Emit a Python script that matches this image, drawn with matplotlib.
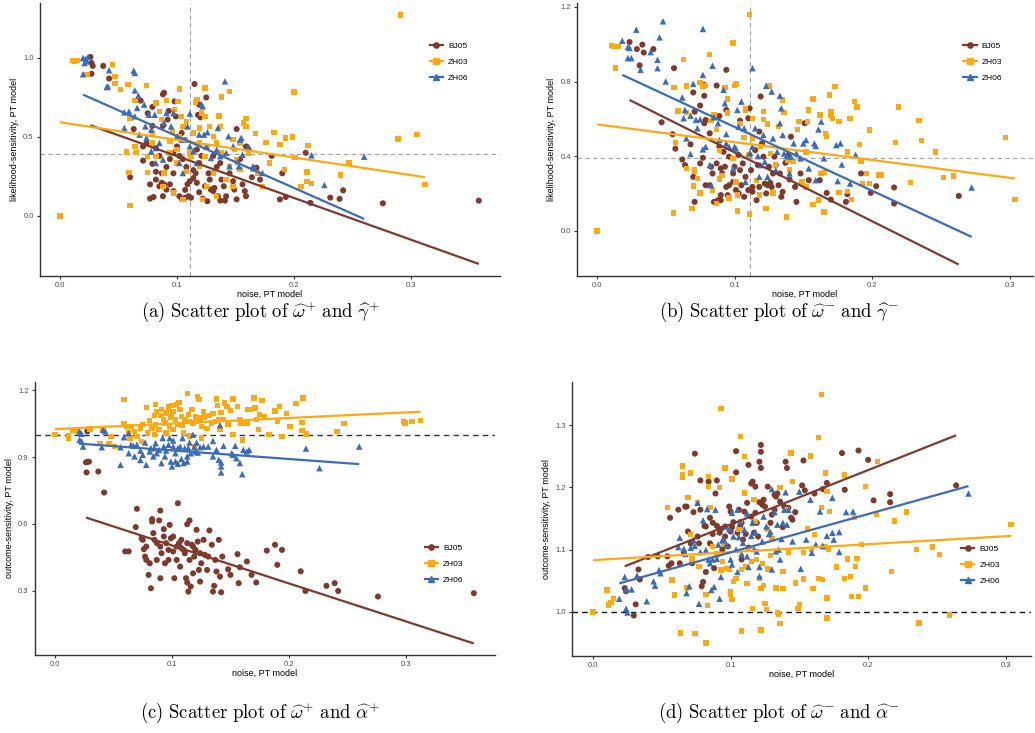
import numpy as np
import matplotlib
matplotlib.use("Agg")
import matplotlib.pyplot as plt
from matplotlib.lines import Line2D

plt.rcParams['font.family'] = ['Liberation Sans', 'DejaVu Sans']
plt.rcParams['mathtext.fontset'] = 'cm'

groups = ["BJ05", "ZH03", "ZH06"]
colors = {"BJ05": "#7d3a2d", "ZH03": "#ffa812", "ZH06": "#3a6cb8"}
markers = {"BJ05": "o", "ZH03": "s", "ZH06": "^"}

# ---- (a) noise vs likelihood-sensitivity, gains ----
a_bj05 = [(0.026, 1.006), (0.027, 0.968), (0.028, 0.95), (0.027, 0.90), (0.037, 0.95), (0.042, 0.87),
          (0.063, 0.55), (0.069, 0.73), (0.075, 0.65), (0.079, 0.69), (0.088, 0.77), (0.089, 0.78),
          (0.098, 0.725), (0.093, 0.665), (0.115, 0.835), (0.125, 0.75), (0.119, 0.705), (0.118, 0.64),
          (0.12, 0.625), (0.151, 0.55), (0.060, 0.245), (0.071, 0.35), (0.077, 0.11), (0.080, 0.12),
          (0.088, 0.125), (0.077, 0.2), (0.082, 0.23), (0.082, 0.28), (0.079, 0.33), (0.087, 0.21),
          (0.089, 0.2), (0.094, 0.2), (0.087, 0.27), (0.094, 0.36), (0.097, 0.40), (0.102, 0.38),
          (0.102, 0.125), (0.104, 0.11), (0.107, 0.115), (0.110, 0.125), (0.112, 0.115), (0.107, 0.165),
          (0.109, 0.2), (0.111, 0.22), (0.114, 0.24), (0.116, 0.27), (0.114, 0.29), (0.119, 0.335),
          (0.121, 0.38), (0.117, 0.42), (0.119, 0.15), (0.122, 0.11), (0.126, 0.093), (0.129, 0.167),
          (0.131, 0.157), (0.132, 0.177), (0.135, 0.125), (0.137, 0.097), (0.141, 0.097), (0.142, 0.125),
          (0.140, 0.188), (0.138, 0.23), (0.137, 0.335), (0.131, 0.38), (0.128, 0.23), (0.151, 0.105),
          (0.149, 0.167), (0.158, 0.157), (0.159, 0.125), (0.156, 0.2), (0.164, 0.245), (0.168, 0.305),
          (0.171, 0.23), (0.181, 0.38), (0.188, 0.105), (0.190, 0.27), (0.193, 0.12), (0.210, 0.40),
          (0.214, 0.083), (0.231, 0.116), (0.239, 0.108), (0.242, 0.162), (0.276, 0.08), (0.358, 0.097),
          (0.085, 0.38), (0.091, 0.31), (0.097, 0.27), (0.100, 0.44), (0.105, 0.36), (0.108, 0.31),
          (0.112, 0.38), (0.117, 0.21), (0.124, 0.188), (0.127, 0.27), (0.134, 0.31), (0.145, 0.27),
          (0.148, 0.22), (0.154, 0.36), (0.159, 0.44), (0.088, 0.57), (0.092, 0.61), (0.099, 0.63),
          (0.104, 0.525), (0.079, 0.57), (0.074, 0.46), (0.082, 0.43), (0.071, 0.44), (0.085, 0.188),
          (0.091, 0.167), (0.097, 0.157)]
a_zh03 = [(0.0, 0.0), (0.011, 0.985), (0.0125, 0.98), (0.0145, 0.985), (0.023, 0.895), (0.045, 0.958),
          (0.047, 0.884), (0.047, 0.838), (0.052, 0.80), (0.058, 0.831), (0.060, 0.62), (0.057, 0.405),
          (0.059, 0.276), (0.060, 0.065), (0.064, 0.441), (0.065, 0.403), (0.064, 0.732), (0.074, 0.825),
          (0.075, 0.276), (0.079, 0.525), (0.082, 0.715), (0.085, 0.662), (0.087, 0.61), (0.091, 0.732),
          (0.094, 0.473), (0.096, 0.536), (0.098, 0.673), (0.101, 0.726), (0.102, 0.804), (0.104, 0.631),
          (0.105, 0.567), (0.107, 0.483), (0.108, 0.599), (0.111, 0.399), (0.114, 0.525), (0.116, 0.72),
          (0.117, 0.736), (0.119, 0.557), (0.121, 0.652), (0.124, 0.81), (0.124, 0.631), (0.126, 0.441),
          (0.128, 0.567), (0.134, 0.462), (0.136, 0.633), (0.137, 0.567), (0.138, 0.753), (0.138, 0.399),
          (0.145, 0.787), (0.148, 0.483), (0.149, 0.42), (0.151, 0.357), (0.154, 0.293), (0.157, 0.589),
          (0.159, 0.616), (0.159, 0.567), (0.167, 0.521), (0.169, 0.272), (0.173, 0.188), (0.176, 0.466),
          (0.179, 0.335), (0.183, 0.53), (0.188, 0.451), (0.193, 0.494), (0.192, 0.293), (0.199, 0.5),
          (0.200, 0.785), (0.201, 0.371), (0.206, 0.188), (0.211, 0.278), (0.212, 0.445), (0.211, 0.219),
          (0.215, 0.207), (0.240, 0.259), (0.247, 0.335), (0.289, 0.487), (0.291, 1.272), (0.305, 0.517),
          (0.312, 0.20), (0.082, 0.378), (0.088, 0.188), (0.089, 0.272), (0.097, 0.146), (0.100, 0.335),
          (0.105, 0.103), (0.108, 0.283), (0.112, 0.378), (0.119, 0.314), (0.122, 0.103), (0.125, 0.188),
          (0.131, 0.272), (0.134, 0.124), (0.142, 0.23), (0.145, 0.314), (0.148, 0.188), (0.154, 0.462),
          (0.161, 0.399), (0.165, 0.293), (0.102, 0.504), (0.100, 0.42), (0.094, 0.399), (0.079, 0.462),
          (0.075, 0.378), (0.119, 0.462), (0.124, 0.378), (0.131, 0.504)]
a_zh06 = [(0.0197, 1.0), (0.022, 0.994), (0.024, 1.006), (0.021, 0.968), (0.023, 0.979), (0.0197, 0.897),
          (0.042, 0.922), (0.040, 0.816), (0.041, 0.82), (0.063, 0.92), (0.064, 0.905), (0.064, 0.795),
          (0.067, 0.762), (0.072, 0.705), (0.066, 0.684), (0.055, 0.656), (0.059, 0.662), (0.055, 0.557),
          (0.064, 0.631), (0.073, 0.567), (0.076, 0.641), (0.081, 0.641), (0.068, 0.515), (0.074, 0.494),
          (0.078, 0.409), (0.082, 0.335), (0.088, 0.357), (0.085, 0.462), (0.089, 0.589), (0.091, 0.652),
          (0.095, 0.567), (0.097, 0.652), (0.100, 0.504), (0.104, 0.483), (0.107, 0.483), (0.102, 0.335),
          (0.105, 0.272), (0.109, 0.567), (0.111, 0.441), (0.111, 0.648), (0.114, 0.409), (0.117, 0.335),
          (0.121, 0.705), (0.122, 0.694), (0.119, 0.515), (0.123, 0.515), (0.126, 0.53), (0.125, 0.441),
          (0.129, 0.367), (0.134, 0.42), (0.135, 0.557), (0.137, 0.378), (0.141, 0.852), (0.144, 0.504),
          (0.142, 0.399), (0.145, 0.314), (0.152, 0.346), (0.153, 0.314), (0.154, 0.483), (0.155, 0.494),
          (0.156, 0.388), (0.161, 0.437), (0.162, 0.430), (0.165, 0.314), (0.166, 0.304), (0.173, 0.272),
          (0.215, 0.384), (0.226, 0.196), (0.260, 0.375), (0.148, 0.441), (0.082, 0.43), (0.078, 0.546)]

# ---- (b) noise vs likelihood-sensitivity, losses ----
b_bj05 = [(0.0237, 1.012), (0.029, 0.974), (0.033, 0.998), (0.034, 0.956), (0.041, 0.974), (0.031, 0.887),
          (0.056, 0.872), (0.047, 0.582), (0.055, 0.518), (0.057, 0.441), (0.062, 0.383), (0.064, 0.353),
          (0.068, 0.464), (0.070, 0.742), (0.071, 0.639), (0.075, 0.672), (0.078, 0.783), (0.078, 0.724),
          (0.078, 0.577), (0.079, 0.595), (0.094, 0.863), (0.094, 0.648), (0.089, 0.616), (0.087, 0.779),
          (0.082, 0.523), (0.077, 0.392), (0.071, 0.156), (0.075, 0.362), (0.079, 0.245), (0.082, 0.245),
          (0.084, 0.308), (0.085, 0.156), (0.088, 0.165), (0.090, 0.165), (0.090, 0.335), (0.091, 0.308),
          (0.094, 0.236), (0.095, 0.192), (0.096, 0.245), (0.099, 0.263), (0.101, 0.219), (0.103, 0.201),
          (0.103, 0.407), (0.104, 0.591), (0.106, 0.362), (0.107, 0.183), (0.108, 0.29), (0.110, 0.604),
          (0.111, 0.657), (0.112, 0.326), (0.113, 0.236), (0.113, 0.21), (0.116, 0.165), (0.117, 0.353),
          (0.118, 0.532), (0.119, 0.72), (0.120, 0.469), (0.122, 0.254), (0.123, 0.201), (0.124, 0.245),
          (0.126, 0.258), (0.127, 0.236), (0.128, 0.308), (0.130, 0.353), (0.132, 0.245), (0.134, 0.183),
          (0.135, 0.21), (0.137, 0.365), (0.139, 0.407), (0.141, 0.505), (0.140, 0.276), (0.144, 0.236),
          (0.145, 0.156), (0.148, 0.308), (0.151, 0.577), (0.154, 0.272), (0.162, 0.272), (0.167, 0.204),
          (0.170, 0.168), (0.181, 0.156), (0.182, 0.197), (0.192, 0.308), (0.199, 0.204), (0.203, 0.240),
          (0.216, 0.233), (0.216, 0.147), (0.263, 0.188), (0.089, 0.451), (0.092, 0.424), (0.096, 0.398),
          (0.100, 0.344), (0.104, 0.326), (0.099, 0.308), (0.093, 0.344), (0.087, 0.362), (0.083, 0.344),
          (0.111, 0.407), (0.115, 0.433), (0.121, 0.398), (0.125, 0.344), (0.129, 0.398), (0.133, 0.308),
          (0.101, 0.263), (0.105, 0.245), (0.110, 0.219), (0.118, 0.236), (0.090, 0.192), (0.070, 0.29)]
b_zh03 = [(0.0, 0.0), (0.0104, 0.992), (0.012, 0.989), (0.014, 0.989), (0.0153, 0.989), (0.0136, 0.872),
          (0.0557, 0.097), (0.057, 0.473), (0.056, 0.770), (0.059, 0.643), (0.063, 0.917), (0.065, 0.777),
          (0.065, 0.634), (0.065, 0.335), (0.069, 0.12), (0.070, 0.24), (0.071, 0.33), (0.071, 0.317),
          (0.073, 0.281), (0.075, 0.795), (0.075, 0.204), (0.077, 0.777), (0.079, 0.779), (0.082, 0.944),
          (0.083, 0.591), (0.084, 0.218), (0.085, 0.622), (0.087, 0.544), (0.087, 0.147), (0.089, 0.43),
          (0.089, 0.278), (0.091, 0.296), (0.093, 0.770), (0.095, 0.706), (0.095, 0.631), (0.096, 0.177),
          (0.099, 0.389), (0.099, 1.007), (0.100, 0.779), (0.101, 0.788), (0.102, 0.192), (0.102, 0.107),
          (0.101, 0.263), (0.104, 0.577), (0.107, 0.502), (0.108, 0.648), (0.108, 0.657), (0.110, 0.407),
          (0.111, 1.159), (0.111, 0.090), (0.113, 0.604), (0.113, 0.496), (0.116, 0.272), (0.118, 0.192),
          (0.119, 0.451), (0.121, 0.639), (0.121, 0.598), (0.123, 0.120), (0.124, 0.573), (0.125, 0.777),
          (0.126, 0.415), (0.128, 0.204), (0.130, 0.353), (0.132, 0.559), (0.135, 0.702), (0.136, 0.634),
          (0.138, 0.075), (0.139, 0.38), (0.140, 0.326), (0.143, 0.371), (0.146, 0.544), (0.147, 0.586),
          (0.149, 0.263), (0.152, 0.424), (0.152, 0.236), (0.153, 0.586), (0.154, 0.648), (0.157, 0.706),
          (0.157, 0.143), (0.161, 0.165), (0.162, 0.622), (0.163, 0.308), (0.165, 0.312), (0.165, 0.102),
          (0.166, 0.523), (0.167, 0.509), (0.169, 0.729), (0.170, 0.639), (0.170, 0.622), (0.171, 0.604),
          (0.173, 0.774), (0.176, 0.586), (0.176, 0.206), (0.182, 0.424), (0.182, 0.21), (0.184, 0.604),
          (0.185, 0.168), (0.187, 0.693), (0.189, 0.663), (0.191, 0.464), (0.192, 0.371), (0.193, 0.254),
          (0.196, 0.308), (0.198, 0.541), (0.198, 0.254), (0.205, 0.299), (0.207, 0.299), (0.217, 0.473),
          (0.219, 0.663), (0.228, 0.258), (0.234, 0.591), (0.236, 0.484), (0.246, 0.423), (0.252, 0.285),
          (0.259, 0.294), (0.297, 0.502), (0.304, 0.170)]
b_zh06 = [(0.0184, 1.019), (0.0225, 0.985), (0.0237, 0.980), (0.0225, 0.926), (0.025, 0.926), (0.0286, 1.078),
          (0.0317, 0.863), (0.039, 0.958), (0.044, 0.917), (0.0455, 1.037), (0.048, 1.123), (0.044, 0.872),
          (0.050, 0.801), (0.062, 0.715), (0.064, 0.648), (0.063, 0.604), (0.065, 0.496), (0.068, 0.412),
          (0.068, 0.618), (0.070, 0.788), (0.072, 0.595), (0.073, 0.55), (0.075, 0.598), (0.077, 0.836),
          (0.077, 1.082), (0.077, 0.437), (0.079, 0.451), (0.082, 0.353), (0.083, 0.245), (0.084, 0.885),
          (0.085, 0.609), (0.088, 0.577), (0.089, 0.487), (0.092, 0.756), (0.093, 0.684), (0.094, 0.519),
          (0.094, 0.469), (0.096, 0.451), (0.099, 0.335), (0.100, 0.451), (0.101, 0.442), (0.102, 0.648),
          (0.103, 0.559), (0.105, 0.693), (0.107, 0.55), (0.108, 0.263), (0.111, 0.416), (0.113, 0.872),
          (0.113, 0.451), (0.115, 0.55), (0.117, 0.401), (0.118, 0.29), (0.119, 0.353), (0.121, 0.514),
          (0.122, 0.371), (0.123, 0.777), (0.124, 0.29), (0.127, 0.747), (0.128, 0.496), (0.130, 0.326),
          (0.131, 0.424), (0.133, 0.724), (0.133, 0.577), (0.134, 0.657), (0.135, 0.514), (0.136, 0.415),
          (0.138, 0.401), (0.140, 0.308), (0.141, 0.398), (0.143, 0.469), (0.145, 0.416), (0.148, 0.389),
          (0.150, 0.469), (0.152, 0.487), (0.154, 0.335), (0.158, 0.469), (0.159, 0.455), (0.159, 0.272),
          (0.161, 0.544), (0.163, 0.586), (0.165, 0.389), (0.174, 0.46), (0.175, 0.267), (0.177, 0.469),
          (0.178, 0.356), (0.184, 0.254), (0.188, 0.407), (0.2724, 0.233)]

# ---- (c) noise vs outcome-sensitivity, gains ----
c_bj05 = [(0.0265, 0.876), (0.0276, 0.879), (0.029, 0.879), (0.027, 0.831), (0.0276, 1.015), (0.037, 0.835),
          (0.042, 0.741), (0.070, 0.668), (0.060, 0.477), (0.063, 0.477), (0.069, 0.586), (0.074, 0.536),
          (0.075, 0.529), (0.076, 0.487), (0.077, 0.454), (0.078, 0.439), (0.080, 0.372), (0.082, 0.312),
          (0.083, 0.622), (0.083, 0.611), (0.084, 0.559), (0.085, 0.529), (0.087, 0.514), (0.089, 0.616),
          (0.090, 0.357), (0.090, 0.660), (0.091, 0.469), (0.093, 0.577), (0.093, 0.544), (0.094, 0.424),
          (0.095, 0.514), (0.097, 0.484), (0.098, 0.596), (0.099, 0.536), (0.101, 0.544), (0.101, 0.477),
          (0.102, 0.357), (0.104, 0.499), (0.105, 0.693), (0.106, 0.514), (0.107, 0.409), (0.108, 0.529),
          (0.110, 0.484), (0.111, 0.469), (0.112, 0.357), (0.113, 0.599), (0.113, 0.338), (0.114, 0.297),
          (0.115, 0.616), (0.115, 0.439), (0.116, 0.320), (0.117, 0.507), (0.118, 0.379), (0.119, 0.454),
          (0.120, 0.484), (0.121, 0.574), (0.122, 0.521), (0.123, 0.394), (0.124, 0.342), (0.125, 0.424),
          (0.127, 0.529), (0.128, 0.462), (0.130, 0.394), (0.132, 0.571), (0.134, 0.507), (0.135, 0.297),
          (0.136, 0.323), (0.137, 0.439), (0.138, 0.387), (0.140, 0.529), (0.141, 0.364), (0.142, 0.294),
          (0.143, 0.454), (0.148, 0.397), (0.150, 0.372), (0.156, 0.465), (0.157, 0.335), (0.158, 0.406),
          (0.164, 0.432), (0.168, 0.372), (0.172, 0.338), (0.181, 0.481), (0.188, 0.507), (0.190, 0.417),
          (0.194, 0.484), (0.210, 0.388), (0.214, 0.300), (0.232, 0.323), (0.239, 0.335), (0.242, 0.300),
          (0.276, 0.275), (0.358, 0.290), (0.090, 0.499), (0.097, 0.439), (0.104, 0.439), (0.108, 0.492),
          (0.113, 0.514), (0.118, 0.499), (0.124, 0.469), (0.131, 0.454), (0.081, 0.424), (0.087, 0.439),
          (0.078, 0.499)]
c_zh03 = [(0.0, 1.001), (0.0114, 0.985), (0.0114, 0.995), (0.015, 1.019), (0.019, 1.015), (0.030, 1.025),
          (0.0385, 0.962), (0.041, 1.022), (0.046, 0.962), (0.048, 0.992), (0.051, 0.947), (0.059, 1.157),
          (0.059, 1.049), (0.061, 1.037), (0.063, 1.007), (0.064, 0.985), (0.065, 1.037), (0.068, 1.015),
          (0.070, 0.992), (0.073, 1.029), (0.074, 0.970), (0.075, 1.045), (0.078, 1.122), (0.079, 1.007),
          (0.081, 1.064), (0.083, 1.029), (0.085, 1.085), (0.085, 1.000), (0.086, 1.134), (0.086, 1.045),
          (0.087, 1.104), (0.089, 1.022), (0.090, 1.085), (0.091, 1.112), (0.093, 1.067), (0.094, 1.052),
          (0.095, 1.007), (0.095, 1.097), (0.097, 1.124), (0.098, 1.037), (0.099, 1.079), (0.100, 1.130),
          (0.101, 1.104), (0.101, 1.022), (0.103, 1.067), (0.104, 1.134), (0.105, 1.045), (0.106, 1.145),
          (0.107, 1.112), (0.108, 1.082), (0.109, 1.040), (0.110, 1.007), (0.111, 1.067), (0.113, 1.184),
          (0.114, 1.090), (0.115, 0.995), (0.115, 1.060), (0.117, 1.112), (0.118, 1.052), (0.119, 0.947),
          (0.120, 1.079), (0.121, 1.060), (0.122, 1.172), (0.123, 1.157), (0.124, 1.075), (0.125, 0.985),
          (0.125, 1.037), (0.127, 1.104), (0.128, 1.079), (0.130, 1.029), (0.132, 1.085), (0.134, 1.052),
          (0.135, 1.094), (0.137, 1.060), (0.138, 1.160), (0.139, 1.130), (0.140, 1.067), (0.141, 1.022),
          (0.142, 1.100), (0.144, 1.067), (0.145, 1.142), (0.147, 1.127), (0.148, 1.045), (0.150, 1.109),
          (0.152, 1.160), (0.152, 1.000), (0.156, 1.127), (0.158, 1.067), (0.159, 1.052), (0.160, 0.977),
          (0.164, 1.049), (0.165, 1.112), (0.167, 1.112), (0.170, 1.164), (0.171, 1.119), (0.172, 1.067),
          (0.174, 1.022), (0.175, 1.090), (0.177, 1.154), (0.179, 1.079), (0.183, 1.001), (0.188, 1.107),
          (0.190, 1.060), (0.192, 1.127), (0.194, 0.992), (0.198, 1.094), (0.201, 1.037), (0.206, 1.139),
          (0.211, 1.055), (0.211, 1.019), (0.212, 1.164), (0.215, 1.004), (0.241, 1.015), (0.247, 1.049),
          (0.298, 1.060), (0.299, 1.052), (0.305, 1.060), (0.3125, 1.064)]
c_zh06 = [(0.021, 1.015), (0.0228, 1.004), (0.021, 0.977), (0.0228, 0.970), (0.024, 0.947), (0.041, 1.022),
          (0.043, 1.015), (0.040, 0.944), (0.056, 0.865), (0.056, 0.944), (0.059, 0.989), (0.063, 0.917),
          (0.063, 1.007), (0.065, 0.955), (0.067, 0.951), (0.068, 0.903), (0.070, 0.955), (0.073, 0.929),
          (0.073, 0.887), (0.075, 0.910), (0.077, 0.965), (0.078, 0.865), (0.081, 0.925), (0.082, 0.940),
          (0.084, 0.903), (0.085, 0.940), (0.086, 0.962), (0.087, 0.917), (0.089, 0.932), (0.091, 0.873),
          (0.092, 0.985), (0.093, 0.947), (0.094, 0.903), (0.095, 0.929), (0.097, 0.955), (0.098, 0.985),
          (0.099, 0.880), (0.100, 0.858), (0.101, 0.947), (0.101, 0.974), (0.103, 0.880), (0.103, 0.917),
          (0.105, 0.940), (0.105, 0.870), (0.107, 0.947), (0.108, 0.891), (0.109, 0.985), (0.110, 0.873),
          (0.111, 0.940), (0.113, 0.903), (0.113, 0.880), (0.114, 0.940), (0.115, 0.965), (0.116, 0.917),
          (0.118, 1.000), (0.119, 0.944), (0.120, 0.925), (0.121, 0.965), (0.122, 0.920), (0.124, 0.944),
          (0.127, 0.947), (0.131, 0.947), (0.135, 0.972), (0.135, 0.903), (0.138, 0.932), (0.140, 0.888),
          (0.141, 1.043), (0.142, 0.876), (0.142, 0.858), (0.142, 0.831), (0.144, 0.950), (0.151, 0.917),
          (0.152, 0.910), (0.154, 0.950), (0.155, 0.895), (0.158, 0.873), (0.160, 0.823), (0.161, 0.932),
          (0.164, 0.925), (0.166, 0.932), (0.2145, 0.938), (0.226, 0.850), (0.260, 0.947)]

# ---- (d) noise vs outcome-sensitivity, losses ----
d_bj05 = [(0.024, 1.033), (0.023, 1.038), (0.0296, 0.994), (0.031, 1.012), (0.033, 1.068), (0.034, 1.052),
          (0.040, 1.088), (0.047, 1.089), (0.054, 1.089), (0.055, 1.074), (0.056, 1.151), (0.057, 1.078),
          (0.062, 1.164), (0.063, 1.078), (0.066, 1.096), (0.067, 1.169), (0.068, 1.169), (0.069, 1.129),
          (0.071, 1.110), (0.072, 1.078), (0.073, 1.160), (0.074, 1.254), (0.076, 1.121), (0.077, 1.110),
          (0.078, 1.211), (0.078, 1.164), (0.079, 1.041), (0.080, 1.048), (0.081, 1.138), (0.082, 1.064),
          (0.082, 1.137), (0.084, 1.209), (0.085, 1.110), (0.085, 1.151), (0.087, 1.143), (0.087, 1.125),
          (0.088, 1.070), (0.089, 1.190), (0.090, 1.211), (0.090, 1.138), (0.092, 1.132), (0.092, 1.127),
          (0.093, 1.133), (0.094, 1.100), (0.095, 1.110), (0.096, 1.137), (0.096, 1.121), (0.098, 1.105),
          (0.099, 1.169), (0.100, 1.161), (0.100, 1.129), (0.101, 1.136), (0.102, 1.144), (0.104, 1.224),
          (0.104, 1.258), (0.105, 1.127), (0.106, 1.164), (0.107, 1.137), (0.108, 1.084), (0.108, 1.143),
          (0.109, 1.116), (0.110, 1.161), (0.111, 1.125), (0.112, 1.175), (0.113, 1.103), (0.113, 1.236),
          (0.115, 1.153), (0.115, 1.206), (0.116, 1.209), (0.117, 1.127), (0.117, 1.144), (0.118, 1.159),
          (0.118, 1.201), (0.119, 1.143), (0.120, 1.121), (0.121, 1.241), (0.121, 1.176), (0.122, 1.257),
          (0.122, 1.231), (0.122, 1.268), (0.123, 1.172), (0.124, 1.180), (0.125, 1.169), (0.127, 1.201),
          (0.129, 1.143), (0.130, 1.156), (0.132, 1.188), (0.132, 1.164), (0.133, 1.185), (0.134, 1.190),
          (0.136, 1.177), (0.138, 1.136), (0.139, 1.169), (0.140, 1.241), (0.141, 1.231), (0.142, 1.167),
          (0.144, 1.151), (0.145, 1.148), (0.147, 1.160), (0.152, 1.203), (0.153, 1.243), (0.154, 1.195),
          (0.161, 1.190), (0.167, 1.197), (0.170, 1.207), (0.181, 1.255), (0.183, 1.196), (0.193, 1.259),
          (0.200, 1.244), (0.204, 1.179), (0.216, 1.189), (0.216, 1.176), (0.264, 1.203)]
d_zh03 = [(0.0, 1.0), (0.0102, 1.035), (0.0114, 1.011), (0.013, 1.015), (0.015, 1.021), (0.054, 1.168),
          (0.0575, 1.051), (0.0592, 1.027), (0.0636, 0.966), (0.065, 1.234), (0.065, 1.221), (0.065, 1.216),
          (0.068, 1.038), (0.069, 1.184), (0.071, 1.124), (0.071, 1.223), (0.072, 1.085), (0.074, 0.965),
          (0.076, 1.175), (0.077, 1.073), (0.082, 0.950), (0.082, 1.028), (0.083, 1.010), (0.084, 1.217),
          (0.084, 1.201), (0.085, 1.168), (0.087, 1.105), (0.090, 1.093), (0.092, 1.200), (0.093, 1.067),
          (0.093, 1.327), (0.094, 1.081), (0.095, 1.108), (0.096, 1.231), (0.097, 1.070), (0.099, 1.068),
          (0.100, 1.028), (0.100, 1.033), (0.101, 1.020), (0.101, 1.213), (0.102, 1.049), (0.104, 1.054),
          (0.106, 1.132), (0.107, 1.145), (0.107, 1.282), (0.108, 0.969), (0.108, 1.068), (0.110, 1.249),
          (0.110, 1.191), (0.111, 1.073), (0.112, 1.045), (0.113, 1.100), (0.115, 1.081), (0.116, 1.005),
          (0.117, 1.180), (0.118, 1.145), (0.119, 1.084), (0.121, 1.054), (0.122, 1.037), (0.122, 0.971),
          (0.123, 1.078), (0.124, 1.042), (0.125, 1.013), (0.126, 1.004), (0.127, 1.069), (0.127, 1.133),
          (0.129, 1.068), (0.129, 1.090), (0.130, 1.117), (0.133, 1.038), (0.134, 0.999), (0.135, 0.996),
          (0.136, 1.200), (0.136, 0.981), (0.138, 1.037), (0.138, 1.065), (0.141, 1.164), (0.142, 1.096),
          (0.144, 1.255), (0.145, 1.209), (0.147, 1.046), (0.149, 1.005), (0.150, 1.012), (0.153, 1.053),
          (0.153, 1.095), (0.156, 1.133), (0.158, 1.250), (0.159, 1.100), (0.160, 1.037), (0.161, 1.124),
          (0.164, 1.054), (0.164, 1.280), (0.166, 1.349), (0.166, 1.168), (0.167, 1.052), (0.168, 1.104),
          (0.169, 1.223), (0.170, 1.193), (0.170, 1.022), (0.170, 0.990), (0.171, 1.101), (0.172, 1.161),
          (0.177, 1.072), (0.183, 1.054), (0.183, 1.220), (0.185, 1.085), (0.187, 1.057), (0.188, 1.025),
          (0.190, 1.151), (0.191, 1.073), (0.192, 1.086), (0.193, 1.025), (0.195, 1.108), (0.198, 1.201),
          (0.198, 1.038), (0.206, 1.156), (0.207, 1.241), (0.217, 1.065), (0.219, 1.146), (0.228, 1.160),
          (0.235, 1.100), (0.237, 0.982), (0.247, 1.104), (0.252, 1.092), (0.259, 0.995), (0.304, 1.140)]
d_zh06 = [(0.019, 1.021), (0.023, 1.056), (0.024, 1.005), (0.025, 0.999), (0.024, 1.036), (0.028, 1.036),
          (0.032, 1.058), (0.039, 1.017), (0.044, 1.049), (0.045, 1.042), (0.048, 1.067), (0.049, 1.062),
          (0.062, 1.104), (0.063, 1.119), (0.066, 1.101), (0.067, 1.093), (0.068, 1.030), (0.070, 1.041),
          (0.071, 1.103), (0.073, 1.115), (0.074, 1.106), (0.076, 1.175), (0.077, 1.013), (0.078, 1.096),
          (0.080, 1.147), (0.082, 1.099), (0.083, 1.165), (0.084, 1.084), (0.085, 1.078), (0.086, 1.035),
          (0.087, 1.084), (0.088, 1.040), (0.089, 1.164), (0.090, 1.085), (0.091, 1.108), (0.092, 1.021),
          (0.093, 1.056), (0.094, 1.115), (0.095, 1.117), (0.096, 1.137), (0.097, 1.108), (0.099, 1.133),
          (0.100, 1.084), (0.101, 1.159), (0.101, 1.076), (0.102, 1.121), (0.104, 1.100), (0.105, 1.164),
          (0.105, 1.064), (0.106, 1.120), (0.107, 1.145), (0.108, 1.093), (0.109, 1.111), (0.110, 1.132),
          (0.112, 1.089), (0.112, 1.158), (0.113, 1.072), (0.115, 1.122), (0.116, 1.143), (0.117, 1.101),
          (0.118, 1.128), (0.119, 1.097), (0.121, 1.057), (0.121, 1.072), (0.123, 1.113), (0.124, 1.153),
          (0.126, 1.137), (0.128, 1.125), (0.129, 1.128), (0.130, 1.068), (0.130, 1.197), (0.132, 1.160),
          (0.133, 1.097), (0.134, 1.140), (0.135, 1.100), (0.136, 1.084), (0.137, 1.117), (0.138, 1.143),
          (0.139, 1.164), (0.140, 1.192), (0.141, 1.140), (0.142, 1.164), (0.145, 1.113), (0.150, 1.193),
          (0.151, 1.069), (0.155, 1.116), (0.158, 1.180), (0.159, 1.095), (0.162, 1.108), (0.165, 1.161),
          (0.167, 1.106), (0.170, 1.122), (0.174, 1.183), (0.174, 1.127), (0.175, 1.116), (0.179, 1.128),
          (0.179, 1.096), (0.184, 1.160), (0.189, 1.161), (0.273, 1.190)]

# fitted lines (intercept, slope)
fit_a = {"BJ05": (0.643, -2.645), "ZH03": (0.593, -1.115), "ZH06": (0.8325, -3.275)}
fit_b = {"BJ05": (0.789, -3.684), "ZH03": (0.571, -0.954), "ZH06": (0.899, -3.417)}
fit_c = {"BJ05": (0.674, -1.702), "ZH03": (1.025, 0.25), "ZH06": (0.968, -0.384)}
fit_d = {"BJ05": (1.053, 0.873), "ZH03": (1.083, 0.128), "ZH06": (1.034, 0.615)}

# reference lines: (vertical x, horizontal y)
ref_a = (0.111, 0.392)
ref_b = (0.111, 0.393)

captions = [r"$\mathrm{(a)\ Scatter\ plot\ of\ }\widehat{\omega}^{+}\mathrm{\ and\ }\widehat{\gamma}^{+}$",
            r"$\mathrm{(b)\ Scatter\ plot\ of\ }\widehat{\omega}^{-}\mathrm{\ and\ }\widehat{\gamma}^{-}$",
            r"$\mathrm{(c)\ Scatter\ plot\ of\ }\widehat{\omega}^{+}\mathrm{\ and\ }\widehat{\alpha}^{+}$",
            r"$\mathrm{(d)\ Scatter\ plot\ of\ }\widehat{\omega}^{-}\mathrm{\ and\ }\widehat{\alpha}^{-}$"]

TXT = "#4d4d4d"
SIZES = {"BJ05": 19, "ZH03": 15, "ZH06": 22}


def style_axes(ax, ylabel, yticks, xlim, ylim):
    for s in ["top", "right"]:
        ax.spines[s].set_visible(False)
    for s in ["left", "bottom"]:
        ax.spines[s].set_color("#333333")
        ax.spines[s].set_linewidth(1.0)
    ax.set_xlim(*xlim)
    ax.set_ylim(*ylim)
    ax.set_xticks([0.0, 0.1, 0.2, 0.3])
    ax.set_xticklabels(["%.1f" % v for v in [0.0, 0.1, 0.2, 0.3]])
    ax.set_yticks(yticks)
    ax.set_yticklabels(["%.1f" % v for v in yticks])
    ax.tick_params(length=2.5, width=0.8, color="#333333", labelsize=5.5, labelcolor=TXT, pad=2)
    ax.set_xlabel("noise, PT model", fontsize=6.5, labelpad=0.5)
    ax.set_ylabel(ylabel, fontsize=6.5, labelpad=3)


def draw_panel(ax, data, fits):
    for g in groups:
        pts = np.array(data[g])
        ax.scatter(pts[:, 0], pts[:, 1], s=SIZES[g], marker=markers[g], color=colors[g],
                   edgecolors="none", zorder=3)
    for g in groups:
        pts = np.array(data[g])
        xs = np.array([pts[:, 0].min(), pts[:, 0].max()])
        b0, b1 = fits[g]
        ax.plot(xs, b0 + b1 * xs, color=colors[g], lw=1.6, zorder=4, solid_capstyle="butt")


def add_legend(ax, anchor):
    handles = [Line2D([0], [0], color=colors[g], marker=markers[g], markersize=3.8, lw=1.6) for g in groups]
    ax.legend(handles, groups, loc="upper left", bbox_to_anchor=anchor, frameon=False, fontsize=6,
              handlelength=1.6, handletextpad=0.6, labelspacing=1.0, borderaxespad=0)


fig = plt.figure(figsize=(10.35, 7.33), dpi=100)

ax_a = fig.add_axes([0.0386, 0.6235, 0.4444, 0.3724])
draw_panel(ax_a, {"BJ05": a_bj05, "ZH03": a_zh03, "ZH06": a_zh06}, fit_a)
ax_a.axvline(ref_a[0], color="#a0a0a0", ls=(0, (4, 3)), lw=0.8, zorder=1)
ax_a.axhline(ref_a[1], color="#a0a0a0", ls=(0, (4, 3)), lw=0.8, zorder=1)
style_axes(ax_a, "likelihood-sensitivity, PT model", [0.0, 0.5, 1.0], (-0.0171, 0.376), (-0.38, 1.348))
add_legend(ax_a, (0.84, 0.87))

ax_b = fig.add_axes([0.5575, 0.6235, 0.4406, 0.3724])
draw_panel(ax_b, {"BJ05": b_bj05, "ZH03": b_zh03, "ZH06": b_zh06}, fit_b)
ax_b.axvline(ref_b[0], color="#a0a0a0", ls=(0, (4, 3)), lw=0.8, zorder=1)
ax_b.axhline(ref_b[1], color="#a0a0a0", ls=(0, (4, 3)), lw=0.8, zorder=1)
style_axes(ax_b, "likelihood-sensitivity, PT model", [0.0, 0.4, 0.8, 1.2], (-0.0145, 0.317), (-0.241, 1.221))
add_legend(ax_b, (0.84, 0.87))

ax_c = fig.add_axes([0.0338, 0.1064, 0.4444, 0.3724])
draw_panel(ax_c, {"BJ05": c_bj05, "ZH03": c_zh03, "ZH06": c_zh06}, fit_c)
ax_c.axhline(1.0, color="#333333", ls=(0, (4, 3)), lw=1.0, zorder=1)
style_axes(ax_c, "outcome-sensitivity, PT model", [0.3, 0.6, 0.9, 1.2], (-0.0171, 0.376), (0.013, 1.236))
add_legend(ax_c, (0.84, 0.418))

ax_d = fig.add_axes([0.5527, 0.1050, 0.4435, 0.3738])
draw_panel(ax_d, {"BJ05": d_bj05, "ZH03": d_zh03, "ZH06": d_zh06}, fit_d)
ax_d.axhline(1.0, color="#111111", ls=(0, (4, 3)), lw=1.0, zorder=1)
style_axes(ax_d, "outcome-sensitivity, PT model", [1.0, 1.1, 1.2, 1.3], (-0.0153, 0.3185), (0.929, 1.369))
add_legend(ax_d, (0.84, 0.418))

cap_pos = [(0.2516, 0.567), (0.752, 0.567), (0.2516, 0.021), (0.752, 0.021)]
for (cx, cy), txt in zip(cap_pos, captions):
    fig.text(cx, cy, txt, ha="center", va="baseline", fontsize=13.5)

fig.savefig("out.png", dpi=100)
